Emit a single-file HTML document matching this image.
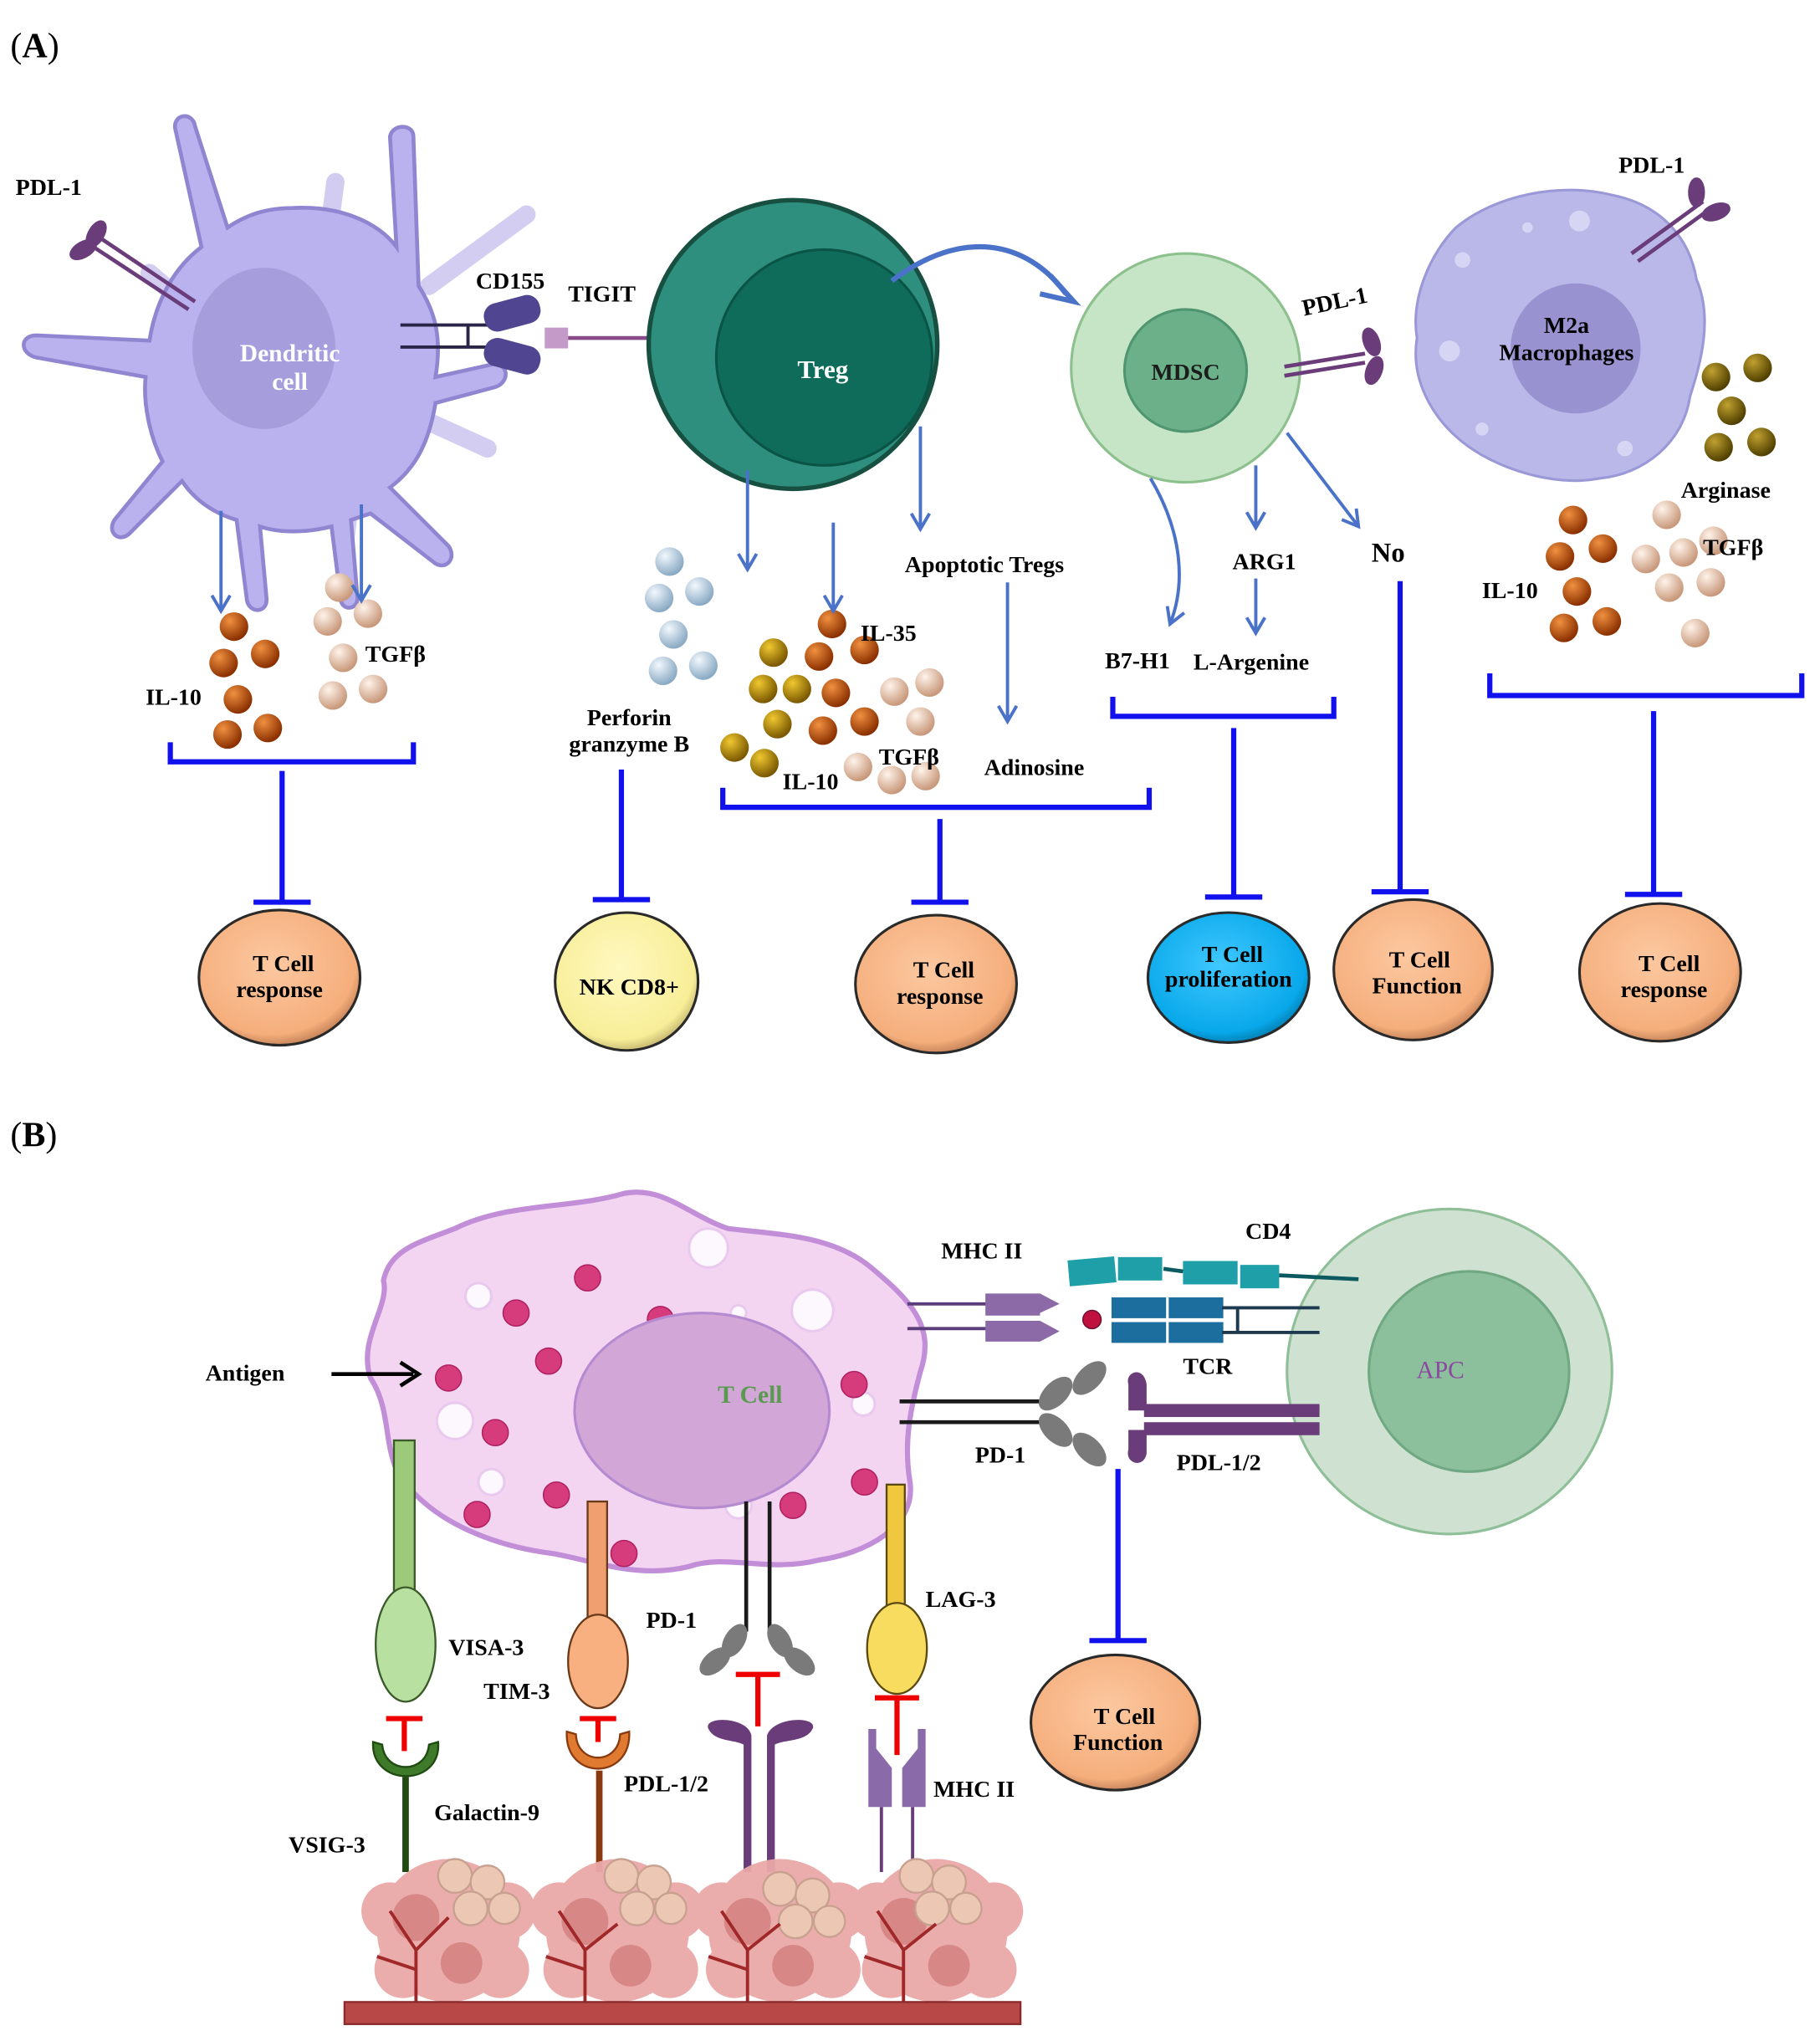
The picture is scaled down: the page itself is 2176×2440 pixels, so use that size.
<!DOCTYPE html>
<html><head><meta charset="utf-8"><style>
html,body{margin:0;padding:0;background:#fff;}
svg{display:block;}
text{font-family:"Liberation Serif",serif;font-weight:bold;}
</style></head><body>
<svg width="2176" height="2440" viewBox="0 0 1400 1570" preserveAspectRatio="none" xmlns="http://www.w3.org/2000/svg">
<defs>
<radialGradient id="go" cx="35%" cy="30%" r="70%"><stop offset="0" stop-color="#f09040"/><stop offset="1" stop-color="#8a3000"/></radialGradient>
<radialGradient id="gg" cx="35%" cy="30%" r="70%"><stop offset="0" stop-color="#f0c830"/><stop offset="1" stop-color="#7a5800"/></radialGradient>
<radialGradient id="gc" cx="35%" cy="30%" r="70%"><stop offset="0" stop-color="#fff3ea"/><stop offset="1" stop-color="#c8987a"/></radialGradient>
<radialGradient id="gb" cx="35%" cy="30%" r="70%"><stop offset="0" stop-color="#f2f8fd"/><stop offset="1" stop-color="#8aaac4"/></radialGradient>
<radialGradient id="gl" cx="35%" cy="30%" r="70%"><stop offset="0" stop-color="#c0a030"/><stop offset="1" stop-color="#504000"/></radialGradient>
<radialGradient id="orc" cx="45%" cy="40%" r="65%"><stop offset="0" stop-color="#fcc8a0"/><stop offset="0.8" stop-color="#f5ae7c"/><stop offset="1" stop-color="#b07048"/></radialGradient>
<radialGradient id="yc" cx="45%" cy="40%" r="65%"><stop offset="0" stop-color="#fff8c0"/><stop offset="0.8" stop-color="#f8ee98"/><stop offset="1" stop-color="#b0a060"/></radialGradient>
<radialGradient id="cc" cx="45%" cy="40%" r="65%"><stop offset="0" stop-color="#40c8ff"/><stop offset="0.8" stop-color="#08a8ea"/><stop offset="1" stop-color="#0070a0"/></radialGradient>
<marker id="ah" markerWidth="20" markerHeight="20" refX="13" refY="8" orient="auto" markerUnits="userSpaceOnUse"><path d="M1,1 L13,8 L1,15" fill="none" stroke="#4a72c8" stroke-width="2.5"/></marker>
</defs>

<text x="8" y="44" font-size="27" style="font-weight:normal">(<tspan font-weight="bold">A</tspan>)</text>

<!-- Dendritic cell -->
<g stroke="#c8c0ee" stroke-width="14" stroke-linecap="round" fill="none" opacity="0.8">
<path d="M250,200 L258,140"/><path d="M330,220 L405,165"/><path d="M320,320 L375,345"/><path d="M150,240 L115,210"/><path d="M270,380 L265,420"/>
</g>
<g fill="#b9b2ee" stroke="#8f85d0" stroke-width="3">
<path d="M225,160 C260,158 290,170 305,190 L300,105 C302,95 318,95 318,105 L322,220 C335,240 340,260 335,290 L380,280 C392,280 392,295 380,298 L335,310 C330,340 320,360 300,375 L345,420 C352,430 342,440 333,432 L285,395 L270,400 L275,460 C275,470 262,470 262,460 L255,405 C235,410 215,410 200,405 L205,460 C206,472 192,472 190,462 L182,400 C165,395 150,385 140,370 L100,410 C92,418 82,410 88,400 L125,355 C115,335 110,310 112,290 L28,275 C15,272 15,258 28,258 L115,262 C120,230 135,205 155,190 L135,100 C132,88 148,85 150,97 L175,175 C190,165 205,160 225,160 Z"/>
</g>
<ellipse cx="203" cy="268" rx="55" ry="62" fill="#a69ddc"/>
<text x="223" y="278" font-size="19" fill="#fff" text-anchor="middle">Dendritic</text>
<text x="223" y="300" font-size="19" fill="#fff" text-anchor="middle">cell</text>
<text x="12" y="150" font-size="18">PDL-1</text>
<g stroke="#6a3d7a" stroke-width="3" fill="#6a3d7a">
<line x1="72" y1="190" x2="145" y2="238"/><line x1="77" y1="183" x2="150" y2="232"/>
<ellipse cx="74" cy="180" rx="5" ry="10" transform="rotate(30 74 180)"/><ellipse cx="64" cy="192" rx="5" ry="10" transform="rotate(60 64 192)"/>
</g>
<!-- CD155 / TIGIT -->
<g stroke="#2a2548" stroke-width="2.5" fill="none"><line x1="308" y1="250" x2="375" y2="250"/><line x1="308" y1="267" x2="375" y2="267"/><line x1="360" y1="250" x2="360" y2="267"/></g>
<rect x="372" y="230" width="44" height="22" rx="10" fill="#4f4590" transform="rotate(-15 394 241)"/>
<rect x="372" y="263" width="44" height="22" rx="10" fill="#4f4590" transform="rotate(15 394 274)"/>
<text x="366" y="222" font-size="18">CD155</text>
<text x="437" y="232" font-size="18">TIGIT</text>
<rect x="419" y="252" width="18" height="16" fill="#c49ac8"/>
<line x1="437" y1="260" x2="532" y2="260" stroke="#8a4a8a" stroke-width="3"/>

<!-- Treg -->
<circle cx="610" cy="265" r="111" fill="#2f8f7e" stroke="#174f40" stroke-width="3.5"/>
<circle cx="634" cy="275" r="83" fill="#0f6b5a" stroke="#0a5446" stroke-width="2"/>
<text x="633" y="291" font-size="20" fill="#fff" text-anchor="middle">Treg</text>
<path d="M686,216 C740,175 790,185 820,226" fill="none" stroke="#4a72c8" stroke-width="4"/>
<path d="M808,212 L826,232 L800,226" fill="none" stroke="#4a72c8" stroke-width="4"/>

<!-- MDSC -->
<circle cx="912" cy="283" r="88" fill="#c6e4c6" stroke="#8cc08c" stroke-width="2"/>
<circle cx="912" cy="285" r="47" fill="#6cb08a" stroke="#4f9670" stroke-width="2"/>
<text x="912" y="292" font-size="18" fill="#1c1c1c" text-anchor="middle">MDSC</text>
<text x="1003" y="243" font-size="18" transform="rotate(-12 1003 243)">PDL-1</text>
<g stroke="#6a3d7a" stroke-width="3" fill="#6a3d7a">
<line x1="988" y1="282" x2="1050" y2="272"/><line x1="988" y1="289" x2="1050" y2="279"/>
<ellipse cx="1055" cy="263" rx="5" ry="10" transform="rotate(-20 1055 263)"/><ellipse cx="1057" cy="285" rx="5" ry="10" transform="rotate(20 1057 285)"/>
</g>

<!-- M2a -->
<path d="M1120,175 C1150,150 1200,140 1240,150 C1280,158 1300,185 1305,215 C1318,245 1308,280 1300,305 C1295,340 1265,365 1230,368 C1195,375 1150,360 1125,340 C1100,320 1085,290 1090,260 C1085,230 1100,195 1120,175 Z" fill="#b9b8e8" stroke="#9a98d6" stroke-width="2"/>
<g fill="#d6d6f4"><circle cx="1215" cy="170" r="8"/><circle cx="1125" cy="200" r="6"/><circle cx="1115" cy="270" r="8"/><circle cx="1250" cy="345" r="6"/><circle cx="1175" cy="175" r="4"/><circle cx="1140" cy="330" r="5"/></g>
<circle cx="1212" cy="268" r="50" fill="#9893d0"/>
<text x="1205" y="256" font-size="18" text-anchor="middle">M2a</text>
<text x="1205" y="277" font-size="18" text-anchor="middle">Macrophages</text>
<text x="1245" y="133" font-size="18">PDL-1</text>
<g stroke="#6a3d7a" stroke-width="3" fill="#6a3d7a">
<line x1="1255" y1="195" x2="1310" y2="155"/><line x1="1260" y1="201" x2="1315" y2="161"/>
<ellipse cx="1305" cy="148" rx="5" ry="10"/><ellipse cx="1320" cy="163" rx="5" ry="10" transform="rotate(70 1320 163)"/>
</g>

<!-- balls -->
<g fill="url(#go)">
<circle cx="180" cy="482" r="11"/><circle cx="172" cy="510" r="11"/><circle cx="204" cy="503" r="11"/><circle cx="183" cy="538" r="11"/><circle cx="175" cy="565" r="11"/><circle cx="206" cy="560" r="11"/>
<circle cx="640" cy="480" r="11"/><circle cx="665" cy="500" r="11"/><circle cx="630" cy="505" r="11"/><circle cx="643" cy="533" r="11"/><circle cx="665" cy="555" r="11"/><circle cx="633" cy="562" r="11"/>
<circle cx="1210" cy="400" r="11"/><circle cx="1233" cy="422" r="11"/><circle cx="1200" cy="428" r="11"/><circle cx="1213" cy="455" r="11"/><circle cx="1203" cy="483" r="11"/><circle cx="1236" cy="478" r="11"/>
</g>
<g fill="url(#gg)">
<circle cx="595" cy="502" r="11"/><circle cx="587" cy="530" r="11"/><circle cx="613" cy="530" r="11"/><circle cx="598" cy="557" r="11"/><circle cx="565" cy="575" r="11"/><circle cx="588" cy="587" r="11"/>
</g>
<g fill="url(#gc)">
<circle cx="261" cy="452" r="11"/><circle cx="252" cy="478" r="11"/><circle cx="283" cy="472" r="11"/><circle cx="264" cy="506" r="11"/><circle cx="256" cy="535" r="11"/><circle cx="287" cy="530" r="11"/>
<circle cx="688" cy="532" r="11"/><circle cx="715" cy="525" r="11"/><circle cx="708" cy="555" r="11"/><circle cx="686" cy="600" r="11"/><circle cx="712" cy="597" r="11"/><circle cx="660" cy="590" r="11"/>
<circle cx="1282" cy="396" r="11"/><circle cx="1266" cy="430" r="11"/><circle cx="1295" cy="425" r="11"/><circle cx="1318" cy="416" r="11"/><circle cx="1284" cy="452" r="11"/><circle cx="1316" cy="448" r="11"/><circle cx="1304" cy="487" r="11"/>
</g>
<g fill="url(#gb)">
<circle cx="515" cy="432" r="11"/><circle cx="507" cy="460" r="11"/><circle cx="538" cy="455" r="11"/><circle cx="518" cy="488" r="11"/><circle cx="510" cy="516" r="11"/><circle cx="541" cy="512" r="11"/>
</g>
<g fill="url(#gl)">
<circle cx="1320" cy="290" r="11"/><circle cx="1352" cy="283" r="11"/><circle cx="1332" cy="316" r="11"/><circle cx="1322" cy="344" r="11"/><circle cx="1355" cy="340" r="11"/>
</g>

<!-- blue arrows -->
<g stroke="#4a72c8" stroke-width="2.5" fill="none" marker-end="url(#ah)">
<line x1="170" y1="393" x2="170" y2="470"/><line x1="278" y1="388" x2="278" y2="462"/>
<line x1="575" y1="362" x2="575" y2="438"/><line x1="641" y1="402" x2="641" y2="470"/>
<line x1="708" y1="328" x2="708" y2="407"/><line x1="775" y1="448" x2="775" y2="555"/>
<line x1="966" y1="358" x2="966" y2="406"/><line x1="966" y1="445" x2="966" y2="487"/>
<path d="M990,333 L1045,405"/>
<path d="M885,368 C910,410 912,450 900,480"/>
</g>

<!-- labels A -->
<g font-size="18">
<text x="112" y="542">IL-10</text><text x="281" y="509">TGFβ</text>
<text x="484" y="558" text-anchor="middle">Perforin</text><text x="484" y="578" text-anchor="middle">granzyme B</text>
<text x="662" y="493">IL-35</text><text x="676" y="588">TGFβ</text><text x="602" y="607">IL-10</text>
<text x="696" y="440">Apoptotic Tregs</text><text x="757" y="596">Adinosine</text>
<text x="948" y="438">ARG1</text><text x="850" y="514">B7-H1</text><text x="918" y="515">L-Argenine</text>
<text x="1055" y="432" font-size="21">No</text>
<text x="1293" y="383">Arginase</text><text x="1310" y="427">TGFβ</text><text x="1140" y="460">IL-10</text>
</g>

<!-- brackets & inhibition A -->
<g stroke="#1111ee" stroke-width="4" fill="none">
<path d="M131,571 L131,586 L318,586 L318,571"/><line x1="217" y1="593" x2="217" y2="694"/><line x1="195" y1="694" x2="239" y2="694"/>
<line x1="478" y1="592" x2="478" y2="692"/><line x1="456" y1="692" x2="500" y2="692"/>
<path d="M556,606 L556,621 L884,621 L884,606"/><line x1="723" y1="630" x2="723" y2="694"/><line x1="701" y1="694" x2="745" y2="694"/>
<path d="M856,536 L856,551 L1026,551 L1026,536"/><line x1="949" y1="560" x2="949" y2="690"/><line x1="927" y1="690" x2="971" y2="690"/>
<line x1="1077" y1="447" x2="1077" y2="686"/><line x1="1055" y1="686" x2="1099" y2="686"/>
<path d="M1146,518 L1146,535 L1386,535 L1386,518"/><line x1="1272" y1="547" x2="1272" y2="688"/><line x1="1250" y1="688" x2="1294" y2="688"/>
</g>

<!-- outcome circles A -->
<g stroke="#2a2a2a" stroke-width="2">
<ellipse cx="215" cy="752" rx="62" ry="52" fill="url(#orc)"/>
<ellipse cx="482" cy="755" rx="55" ry="53" fill="url(#yc)"/>
<ellipse cx="720" cy="757" rx="62" ry="53" fill="url(#orc)"/>
<ellipse cx="945" cy="752" rx="62" ry="50" fill="url(#cc)"/>
<ellipse cx="1087" cy="746" rx="61" ry="54" fill="url(#orc)"/>
<ellipse cx="1277" cy="748" rx="62" ry="53" fill="url(#orc)"/>
</g>
<g font-size="18" text-anchor="middle">
<text x="218" y="747">T Cell</text><text x="215" y="767">response</text>
<text x="484" y="765">NK CD8+</text>
<text x="726" y="752">T Cell</text><text x="723" y="772">response</text>
<text x="948" y="740">T Cell</text><text x="945" y="759">proliferation</text>
<text x="1092" y="744">T Cell</text><text x="1090" y="764">Function</text>
<text x="1284" y="747">T Cell</text><text x="1280" y="767">response</text>
</g>

<!-- Panel B -->
<text x="8" y="882" font-size="27" style="font-weight:normal">(<tspan font-weight="bold">B</tspan>)</text>
<path d="M350,945 C390,925 440,930 480,918 C510,912 530,935 560,945 C600,950 640,950 670,975 C700,1000 720,1020 708,1055 C700,1085 695,1110 700,1140 C705,1175 665,1195 630,1200 C590,1210 560,1195 530,1205 C490,1215 455,1200 425,1195 C385,1190 345,1175 320,1150 C290,1125 305,1090 285,1060 C275,1030 300,1005 295,985 C300,960 325,955 350,945 Z" fill="#f3d5f2" stroke="#c28ed8" stroke-width="4"/>
<g fill="#fff" stroke="#e8c8ee" stroke-width="2" opacity="0.85"><circle cx="545" cy="960" r="15"/><circle cx="368" cy="997" r="10"/><circle cx="625" cy="1008" r="16"/><circle cx="350" cy="1093" r="14"/><circle cx="378" cy="1140" r="10"/><circle cx="664" cy="1080" r="9"/><circle cx="568" cy="1010" r="6"/><circle cx="568" cy="1158" r="10"/></g>
<g fill="#d63c7c" stroke="#b02060" stroke-width="1"><circle cx="452" cy="983" r="10"/><circle cx="397" cy="1010" r="10"/><circle cx="508" cy="1015" r="10"/><circle cx="422" cy="1047" r="10"/><circle cx="345" cy="1060" r="10"/><circle cx="381" cy="1102" r="10"/><circle cx="657" cy="1065" r="10"/><circle cx="428" cy="1150" r="10"/><circle cx="367" cy="1165" r="10"/><circle cx="665" cy="1140" r="10"/><circle cx="610" cy="1158" r="10"/><circle cx="480" cy="1195" r="10"/></g>
<ellipse cx="540" cy="1085" rx="98" ry="75" fill="#d2a6d6" stroke="#b58ad0" stroke-width="2"/>
<text x="577" y="1079" font-size="19" fill="#5a9a50" text-anchor="middle">T Cell</text>
<text x="158" y="1062" font-size="18">Antigen</text>
<line x1="255" y1="1057" x2="318" y2="1057" stroke="#000" stroke-width="3"/><path d="M308,1048 L322,1057 L308,1066" fill="none" stroke="#000" stroke-width="3"/>

<!-- APC -->
<circle cx="1115" cy="1055" r="125" fill="#cfe1d0" stroke="#8fbf98" stroke-width="2"/>
<circle cx="1130" cy="1055" r="77" fill="#8cc09c" stroke="#6fa882" stroke-width="2"/>
<text x="1108" y="1060" font-size="19" fill="#8a4aa0" text-anchor="middle" style="font-weight:normal">APC</text>

<!-- MHC II / TCR / CD4 -->
<text x="724" y="968" font-size="18">MHC II</text>
<text x="958" y="953" font-size="18">CD4</text>
<text x="910" y="1057" font-size="18">TCR</text>
<g stroke="#5a3d7a" stroke-width="2.5"><line x1="698" y1="1003" x2="760" y2="1003"/><line x1="698" y1="1022" x2="760" y2="1022"/></g>
<path d="M758,995 L800,995 L815,1003 L800,1010 L800,1012 L758,1012 Z" fill="#8c6aa8"/>
<path d="M758,1016 L800,1016 L815,1024 L800,1032 L758,1032 Z" fill="#8c6aa8"/>
<circle cx="840" cy="1015" r="7" fill="#c01040" stroke="#701030"/>
<g fill="#1c6e9e"><rect x="855" y="998" width="42" height="16"/><rect x="899" y="998" width="42" height="16"/><rect x="855" y="1017" width="42" height="16"/><rect x="899" y="1017" width="42" height="16"/></g>
<g stroke="#1d3a50" stroke-width="2.5"><line x1="940" y1="1006" x2="1015" y2="1006"/><line x1="940" y1="1025" x2="1015" y2="1025"/><line x1="952" y1="1006" x2="952" y2="1025"/></g>
<g fill="#1fa0a8"><rect x="822" y="968" width="36" height="20" transform="rotate(-5 840 978)"/><rect x="860" y="967" width="34" height="18"/><rect x="910" y="970" width="42" height="18"/><rect x="954" y="973" width="30" height="18"/></g>
<line x1="895" y1="976" x2="910" y2="978" stroke="#0c5a60" stroke-width="3"/><line x1="984" y1="981" x2="1045" y2="984" stroke="#0c5a60" stroke-width="3"/>
<!-- PD-1 / PDL -->
<g stroke="#1a1a1a" stroke-width="3"><line x1="692" y1="1078" x2="800" y2="1078"/><line x1="692" y1="1094" x2="800" y2="1094"/></g>
<g fill="#7a7a7a"><ellipse cx="812" cy="1072" rx="9" ry="16" transform="rotate(45 812 1072)"/><ellipse cx="838" cy="1060" rx="9" ry="16" transform="rotate(45 838 1060)"/><ellipse cx="812" cy="1100" rx="9" ry="16" transform="rotate(-45 812 1100)"/><ellipse cx="838" cy="1115" rx="9" ry="16" transform="rotate(-45 838 1115)"/></g>
<text x="750" y="1125" font-size="18">PD-1</text>
<g fill="#6a3d7a"><rect x="880" y="1080" width="135" height="10"/><rect x="880" y="1094" width="135" height="10"/><path d="M868,1065 C865,1055 880,1050 882,1065 L882,1085 L868,1085 Z"/><path d="M868,1100 L882,1100 L882,1118 C880,1130 865,1126 868,1115 Z"/></g>
<text x="905" y="1131" font-size="18">PDL-1/2</text>
<g stroke="#1111ee" stroke-width="4"><line x1="860" y1="1130" x2="860" y2="1262"/><line x1="838" y1="1262" x2="882" y2="1262"/></g>
<ellipse cx="858" cy="1325" rx="65" ry="52" fill="url(#orc)" stroke="#2a2a2a" stroke-width="2"/>
<text x="865" y="1326" font-size="18" text-anchor="middle">T Cell</text><text x="860" y="1346" font-size="18" text-anchor="middle">Function</text>

<!-- receptors bottom -->
<rect x="303" y="1108" width="16" height="122" fill="#9cc97a" stroke="#3a5a2a" stroke-width="1.5"/>
<ellipse cx="312" cy="1265" rx="23" ry="44" fill="#b8e0a0" stroke="#3a5a2a" stroke-width="1.5"/>
<text x="345" y="1273" font-size="18">VISA-3</text>
<rect x="452" y="1155" width="15" height="95" fill="#f0a070" stroke="#6a3a1a" stroke-width="1.5"/>
<ellipse cx="460" cy="1278" rx="23" ry="36" fill="#f8b080" stroke="#6a3a1a" stroke-width="1.5"/>
<text x="372" y="1307" font-size="18">TIM-3</text>
<g stroke="#1a1a1a" stroke-width="3"><line x1="574" y1="1155" x2="574" y2="1255"/><line x1="592" y1="1155" x2="592" y2="1255"/></g>
<g fill="#7a7a7a"><ellipse cx="565" cy="1262" rx="8" ry="14" transform="rotate(30 565 1262)"/><ellipse cx="550" cy="1278" rx="8" ry="14" transform="rotate(50 550 1278)"/><ellipse cx="600" cy="1262" rx="8" ry="14" transform="rotate(-30 600 1262)"/><ellipse cx="615" cy="1278" rx="8" ry="14" transform="rotate(-50 615 1278)"/></g>
<text x="497" y="1252" font-size="18">PD-1</text>
<rect x="682" y="1142" width="14" height="100" fill="#f0c840" stroke="#5a4a10" stroke-width="1.5"/>
<ellipse cx="690" cy="1268" rx="23" ry="35" fill="#f8dc60" stroke="#5a4a10" stroke-width="1.5"/>
<text x="712" y="1236" font-size="18">LAG-3</text>
<!-- red inhibit -->
<g stroke="#ee0000" stroke-width="4"><line x1="297" y1="1322" x2="325" y2="1322"/><line x1="311" y1="1322" x2="311" y2="1347"/><line x1="446" y1="1322" x2="474" y2="1322"/><line x1="460" y1="1322" x2="460" y2="1340"/><line x1="566" y1="1288" x2="600" y2="1288"/><line x1="583" y1="1288" x2="583" y2="1328"/><line x1="673" y1="1306" x2="707" y2="1306"/><line x1="690" y1="1306" x2="690" y2="1350"/></g>
<!-- ligands -->
<path d="M287,1340 C285,1375 340,1375 337,1340 L330,1342 C328,1365 296,1365 294,1342 Z" fill="#3f7a2a" stroke="#1f4a10" stroke-width="1.5"/>
<line x1="312" y1="1367" x2="312" y2="1440" stroke="#1f4a10" stroke-width="5"/>
<text x="334" y="1400" font-size="18">Galactin-9</text><text x="222" y="1425" font-size="18">VSIG-3</text>
<path d="M436,1332 C434,1370 486,1370 484,1332 L477,1334 C476,1358 444,1358 443,1334 Z" fill="#e07a30" stroke="#8a3a10" stroke-width="1.5"/>
<line x1="461" y1="1362" x2="461" y2="1440" stroke="#8a3a10" stroke-width="5"/>
<text x="480" y="1378" font-size="18">PDL-1/2</text>
<path d="M545,1330 C540,1320 575,1320 578,1335 L578,1440 L572,1440 L572,1342 C565,1338 550,1340 545,1330 Z" fill="#6a3d7a"/>
<path d="M625,1330 C630,1320 595,1320 590,1335 L590,1440 L596,1440 L596,1342 C603,1338 620,1340 625,1330 Z" fill="#6a3d7a"/>
<path d="M668,1330 L674,1330 L674,1345 L686,1360 L686,1390 L668,1390 Z" fill="#8a6aa8"/><path d="M712,1330 L706,1330 L706,1345 L694,1360 L694,1390 L712,1390 Z" fill="#8a6aa8"/>
<g stroke="#6a3d7a" stroke-width="2.5"><line x1="678" y1="1390" x2="678" y2="1440"/><line x1="702" y1="1390" x2="702" y2="1440"/></g>
<text x="718" y="1382" font-size="18">MHC II</text>

<!-- tumors -->
<g fill="#eaa8a8" opacity="0.95">
<circle cx="345" cy="1485" r="55"/><circle cx="300" cy="1470" r="22"/><circle cx="390" cy="1470" r="22"/><circle cx="310" cy="1515" r="22"/><circle cx="385" cy="1515" r="22"/>
<circle cx="475" cy="1485" r="55"/><circle cx="430" cy="1470" r="22"/><circle cx="520" cy="1470" r="22"/><circle cx="440" cy="1515" r="22"/><circle cx="515" cy="1515" r="22"/>
<circle cx="600" cy="1485" r="55"/><circle cx="555" cy="1470" r="22"/><circle cx="645" cy="1470" r="22"/><circle cx="565" cy="1515" r="22"/><circle cx="640" cy="1515" r="22"/>
<circle cx="720" cy="1485" r="55"/><circle cx="675" cy="1470" r="22"/><circle cx="765" cy="1470" r="22"/><circle cx="685" cy="1515" r="22"/><circle cx="760" cy="1515" r="22"/>
</g>
<g fill="#d07878" opacity="0.7"><circle cx="320" cy="1475" r="18"/><circle cx="355" cy="1510" r="16"/><circle cx="450" cy="1478" r="18"/><circle cx="485" cy="1512" r="16"/><circle cx="575" cy="1478" r="18"/><circle cx="610" cy="1512" r="16"/><circle cx="695" cy="1478" r="18"/><circle cx="730" cy="1512" r="16"/></g>
<g fill="#ecc8b4" stroke="#c8a090" stroke-width="1.5"><circle cx="350" cy="1443" r="13"/><circle cx="375" cy="1448" r="13"/><circle cx="362" cy="1468" r="13"/><circle cx="388" cy="1468" r="12"/><circle cx="478" cy="1443" r="13"/><circle cx="503" cy="1448" r="13"/><circle cx="490" cy="1468" r="13"/><circle cx="516" cy="1468" r="12"/><circle cx="600" cy="1453" r="13"/><circle cx="625" cy="1458" r="13"/><circle cx="612" cy="1478" r="13"/><circle cx="638" cy="1478" r="12"/><circle cx="705" cy="1443" r="13"/><circle cx="730" cy="1448" r="13"/><circle cx="717" cy="1468" r="13"/><circle cx="743" cy="1468" r="12"/></g>
<g stroke="#a02828" stroke-width="2.5" fill="none"><path d="M320,1540 L320,1500 L300,1470 M320,1500 L345,1475 M320,1515 L290,1505"/><path d="M450,1540 L450,1500 L430,1470 M450,1500 L475,1480 M450,1515 L420,1505"/><path d="M575,1540 L575,1500 L555,1470 M575,1500 L600,1480 M575,1515 L545,1505"/><path d="M695,1540 L695,1500 L675,1470 M695,1500 L720,1480 M695,1515 L665,1505"/></g>
<rect x="265" y="1540" width="520" height="17" fill="#b84848" stroke="#8a2a2a" stroke-width="1.5"/>
</svg>
</body></html>
